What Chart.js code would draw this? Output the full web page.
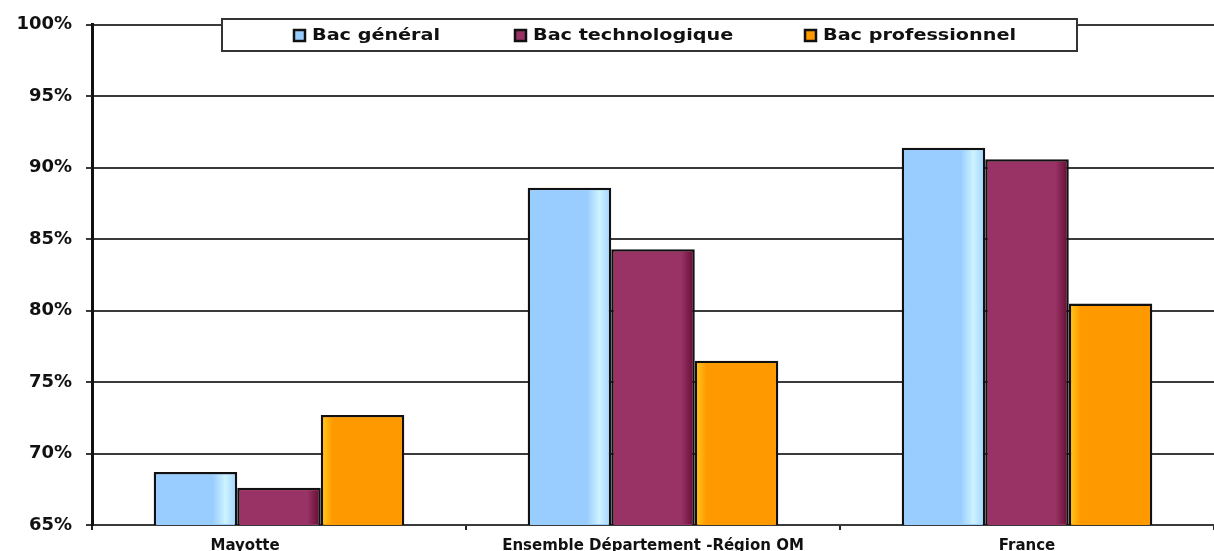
<!DOCTYPE html>
<html lang="fr">
<head>
    <meta charset="UTF-8">
    <title>Taux de réussite au bac</title>
    <script src="https://cdn.jsdelivr.net/npm/chart.js"></script>
    <style>
        html, body { margin: 0; padding: 0; background: #fff; }
        #wrap { width: 1214px; height: 551px; position: relative; }
    </style>
</head>
<body>
    <div id="wrap"><canvas id="bacChart"></canvas></div>

    <script>
        // Données
        const categories = ['Mayotte', 'Ensemble Département -Région OM', 'France'];
        const bacGeneral = [68.7, 88.6, 91.4];
        const bacTechno = [67.6, 84.3, 90.6];
        const bacPro = [72.7, 76.5, 80.5];
        const seriesNames = ['Bac général', 'Bac technologique', 'Bac professionnel'];
        const yTicks = [65, 70, 75, 80, 85, 90, 95, 100];

        const FONT = '"DejaVu Sans", Verdana, sans-serif';

        // petits reflets verticaux sur les barres, façon Excel
        const shades = [
            [[0, '#99ccff'], [0.72, '#99ccff'], [0.88, '#cdf3ff'], [1, '#a8d8ff']],
            [[0, '#993366'], [0.86, '#993366'], [1, '#6c1239']],
            [[0, '#ffc21a'], [0.12, '#ff9900'], [1, '#ff9900']]
        ];
        const barShade = {
            id: 'barShade',
            afterDatasetsDraw(chart) {
                const c = chart.ctx;
                const area = chart.chartArea;
                c.save();
                c.beginPath();
                c.rect(area.left, area.top, area.right - area.left, area.bottom - area.top);
                c.clip();
                chart.data.datasets.forEach((ds, i) => {
                    chart.getDatasetMeta(i).data.forEach(bar => {
                        const bw = bar.options.borderWidth;
                        const left = bar.x - bar.width / 2 + bw;
                        const right = bar.x + bar.width / 2 - bw;
                        const top = bar.y + bw;
                        const bottom = Math.min(bar.base, area.bottom) - 1;
                        const g = c.createLinearGradient(left, 0, right, 0);
                        shades[i].forEach(s => g.addColorStop(s[0], s[1]));
                        c.fillStyle = g;
                        c.fillRect(left, top, right - left, bottom - top);
                    });
                });
                c.restore();
            }
        };

        // Légende encadrée dessinée par-dessus la zone du graphique
        const boxLegend = {
            id: 'boxLegend',
            afterDraw(chart) {
                const ctx = chart.ctx;
                const x0 = 222, y0 = 19, w = 855, h = 32;
                ctx.save();
                ctx.fillStyle = '#fff';
                ctx.fillRect(x0, y0, w, h);
                ctx.strokeStyle = '#333';
                ctx.lineWidth = 2;
                ctx.strokeRect(x0, y0, w, h);
                ctx.font = 'bold 16px ' + FONT;
                ctx.textBaseline = 'middle';
                const starts = [293, 514, 804];
                chart.data.datasets.forEach((ds, i) => {
                    const sx = starts[i], cy = y0 + h / 2;
                    ctx.fillStyle = ds.backgroundColor;
                    ctx.fillRect(sx + 1, cy - 5, 11, 11);
                    ctx.strokeStyle = '#111';
                    ctx.lineWidth = 2.5;
                    ctx.strokeRect(sx + 1, cy - 5, 11, 11);
                    ctx.save();
                    ctx.translate(sx + 19, cy + 1);
                    ctx.scale(1.2, 1);
                    ctx.fillStyle = '#111';
                    ctx.fillText(ds.label, 0, 0);
                    ctx.restore();
                });
                ctx.restore();
            }
        };

        const ctx = document.getElementById('bacChart').getContext('2d');
        new Chart(ctx, {
            type: 'bar',
            data: {
                labels: categories,
                datasets: [
                    { label: seriesNames[0], data: bacGeneral, backgroundColor: '#99ccff' },
                    { label: seriesNames[1], data: bacTechno, backgroundColor: '#993366' },
                    { label: seriesNames[2], data: bacPro, backgroundColor: '#ff9900' }
                ]
            },
            options: {
                responsive: true,
                maintainAspectRatio: false,
                animation: false,
                layout: { padding: { top: 24, right: 0, left: 2, bottom: 0 } },
                datasets: {
                    bar: {
                        borderColor: '#111',
                        borderWidth: 2.5,
                        categoryPercentage: 0.67,
                        barPercentage: 1
                    }
                },
                scales: {
                    x: {
                        afterFit(axis) { axis.height = 26; },
                        grid: {
                            offset: true,
                            drawOnChartArea: false,
                            drawTicks: true,
                            tickLength: 5,
                            color: '#222',
                            lineWidth: 2
                        },
                        border: { display: false },
                        ticks: {
                            color: '#111',
                            padding: 7,
                            font: { family: FONT, size: 15, weight: 'bold' },
                            // le libellé Mayotte est décalé à gauche dans l'original
                            callback: function (v, i) {
                                const lab = this.getLabelForValue(v);
                                return i === 0 ? lab + ' '.repeat(13) : lab;
                            }
                        }
                    },
                    y: {
                        min: 65,
                        max: 100,
                        afterFit(axis) { axis.width = 90; },
                        afterBuildTicks(axis) {
                            axis.ticks = yTicks.map(v => ({ value: v }));
                        },
                        grid: {
                            color: '#3a3a3a',
                            lineWidth: 2,
                            tickLength: 6
                        },
                        border: { color: '#111', width: 3 },
                        ticks: {
                            color: '#111',
                            padding: 14,
                            font: { family: FONT, size: 18, weight: 'bold' },
                            callback: v => v + '%'
                        }
                    }
                },
                plugins: {
                    legend: { display: false },
                    tooltip: { enabled: false }
                }
            },
            plugins: [barShade, boxLegend]
        });
    </script>
</body>
</html>
